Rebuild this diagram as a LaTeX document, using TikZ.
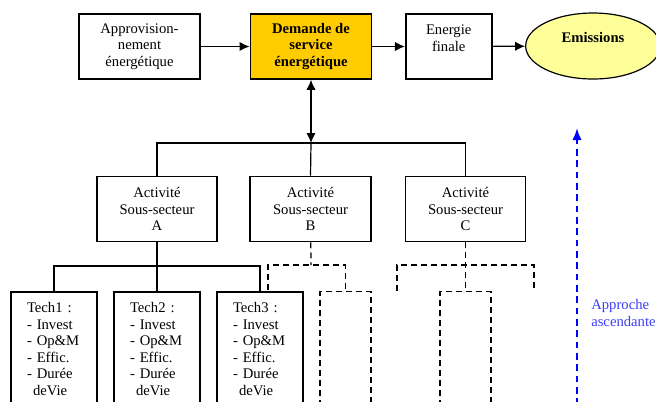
\documentclass[tikz,border=0pt]{standalone}
\usepackage{fontspec}
\setmainfont{Liberation Serif}
\usetikzlibrary{shapes.geometric,arrows.meta}
\definecolor{demgold}{RGB}{255,204,0}
\definecolor{emiyellow}{RGB}{255,255,153}
\definecolor{ascblue}{RGB}{60,60,255}

\begin{document}
\begin{tikzpicture}[x=0.75pt,y=-0.75pt,>={Latex[length=7.5pt,width=7pt]},font=\rmfamily\fontsize{11}{12.4}\selectfont,
    box/.style={draw,line width=1.2pt,minimum height=48.75pt,inner sep=0pt,align=center},
    tbox/.style={draw,line width=1.2pt,anchor=north,text width=40.5pt,inner xsep=12pt,inner ysep=8pt,align=left},
    dbox/.style={draw,line width=0.9pt,dash pattern=on 4.5pt off 3pt,anchor=north,minimum width=38.25pt,minimum height=90pt,inner sep=0pt},
    link/.style={line width=0.9pt},
    dlink/.style={line width=0.9pt,dash pattern=on 4.5pt off 3pt}]
    \useasboundingbox (0,0) rectangle (656,401);

    % chaine du haut
    \node[box,minimum width=90.75pt] (appro) at (139.5,46.5) {Approvision-\\nement\\énergétique};
    \node[box,minimum width=91pt,fill=demgold,font=\rmfamily\fontsize{11}{12.4}\selectfont\bfseries] (dem) at (311,46.5) {Demande de\\service\\énergétique};
    \node[box,minimum width=64.5pt] (ef) at (448.7,46.5) {Energie\\finale\\\mbox{}};
    \node[draw,ellipse,line width=0.9pt,fill=emiyellow,minimum width=101pt,minimum height=49.5pt,inner sep=0pt,align=center,font=\rmfamily\fontsize{11}{12.4}\selectfont\bfseries] (emi) at (593,46) {Emissions\\\mbox{}};

    \draw[->,link] (appro) -- (dem);
    \draw[->,link] (dem) -- (ef);
    \draw[->,link] (ef) -- (emi);

    % sous-secteurs
    \node[box,minimum width=90pt] (A) at (157,209) {Activité\\Sous-secteur\\A};
    \node[box,minimum width=91pt] (B) at (310.5,209) {Activité\\Sous-secteur\\B};
    \node[box,minimum width=90pt] (C) at (465.5,209) {Activité\\Sous-secteur\\C};

    \coordinate (hub) at (311,143);
    \draw[<->,link] (dem) -- (hub);
    \draw[link] (A.north) |- (hub) -| (C.north);
    \draw[link] (hub) -- (B.north);

    % technologies
    \node[tbox] (t1) at (54,291) {Tech1 :\\- Invest\\- Op\&M\\- Effic.\\- Durée\\\hspace*{4.5pt}deVie};
    \node[tbox] (t2) at (157,291) {Tech2 :\\- Invest\\- Op\&M\\- Effic.\\- Durée\\\hspace*{4.5pt}deVie};
    \node[tbox] (t3) at (260,291) {Tech3 :\\- Invest\\- Op\&M\\- Effic.\\- Durée\\\hspace*{4.5pt}deVie};

    \coordinate (ja) at (157,266);
    \draw[link] (A) -- (ja);
    \draw[link] (t1.north) |- (ja) -| (t3.north);
    \draw[link] (ja) -- (t2.north);

    % branches en pointilles
    \node[dbox] (b1) at (345.5,291) {};
    \node[dbox] (c1) at (465.5,291) {};
    \coordinate (jb) at (311,265);
    \coordinate (sb) at (268,290);
    \coordinate (jc) at (465.5,265);
    \coordinate (sc1) at (397,291);
    \coordinate (sc2) at (534,291);

    \draw[dlink] (B) -- (jb);
    \draw[dlink] (sb) |- (jb) -| (b1.north);
    \draw[dlink] (C) -- (c1.north);
    \draw[dlink] (sc1) |- (jc) -| (sc2);

    % approche ascendante
    \coordinate (asc0) at (577,405);
    \coordinate (asc1) at (577,128);
    \draw[-{Latex[length=9pt,width=7pt]},blue,line width=1.5pt,dash pattern=on 5pt off 3.5pt] (asc0) -- (asc1);
    \node[anchor=west,align=left,text=ascblue,inner sep=0pt] (asc) at (591,313) {Approche\\ascendante};
\end{tikzpicture}
\end{document}
